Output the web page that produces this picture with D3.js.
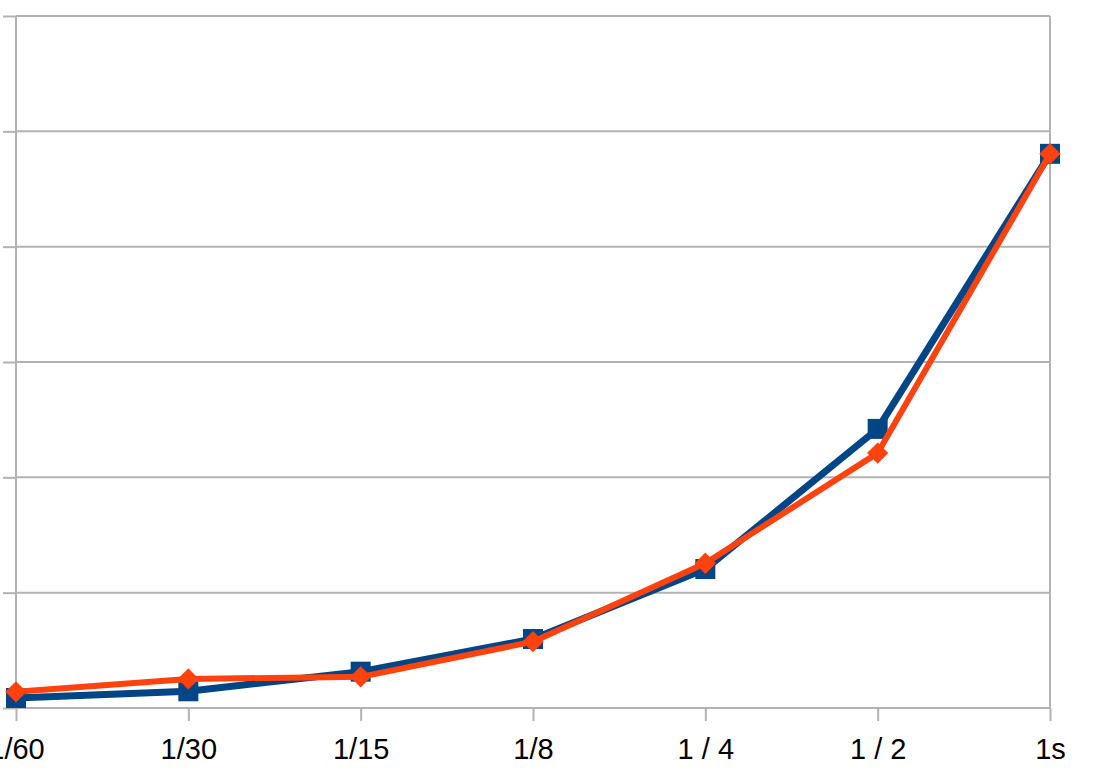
<!DOCTYPE html>
<html>
<head>
<meta charset="utf-8">
<script src="https://cdn.jsdelivr.net/npm/d3@7"></script>
<style>
  body { margin: 0; background: #fff; }
  svg { display: block; }
</style>
</head>
<body>
<div id="chart"></div>
<script>
// categories along the x axis
const categories = ["1/60", "1/30", "1/15", "1/8", "1 / 4", "1 / 2", "1s"];
// (grid step = 10)
const blueValues = [0.87, 1.45, 3.15, 5.98, 12.05, 24.2, 48.05];
const orangeValues = [1.4, 2.52, 2.7, 5.75, 12.55, 22.1, 48.05];
const yTicks = [0, 10, 20, 30, 40, 50, 60];

const width = 1094, height = 776;
const margin = {top: 16, right: 44, bottom: 68, left: 16};

const svg = d3.select("#chart").append("svg")
  .attr("width", width)
  .attr("height", height);

const x = d3.scalePoint()
  .domain(categories)
  .range([margin.left, width - margin.right]);

const y = d3.scaleLinear()
  .domain([0, 60])
  .range([height - margin.bottom, margin.top]);

// small ticks poking out on the left
svg.append("g")
  .attr("transform", `translate(${margin.left},0)`)
  .call(d3.axisLeft(y).tickValues(yTicks).tickSize(13).tickFormat(""))
  .call(g => g.select(".domain").remove())
  .call(g => g.selectAll(".tick line").attr("stroke", "#b3b3b3").attr("stroke-width", 2));

// horizontal grid lines
svg.append("g")
  .selectAll("line")
  .data(yTicks)
  .join("line")
  .attr("x1", margin.left)
  .attr("x2", width - margin.right)
  .attr("y1", d => y(d))
  .attr("y2", d => y(d))
  .attr("stroke", "#b3b3b3")
  .attr("stroke-width", 2);

// left and right vertical lines
svg.append("line")
  .attr("x1", margin.left).attr("x2", margin.left)
  .attr("y1", y(60)).attr("y2", y(0))
  .attr("stroke", "#b3b3b3").attr("stroke-width", 2);
svg.append("line")
  .attr("x1", width - margin.right).attr("x2", width - margin.right)
  .attr("y1", y(60)).attr("y2", y(0))
  .attr("stroke", "#b3b3b3").attr("stroke-width", 2);

// x axis
svg.append("g")
  .attr("transform", `translate(0,${y(0)})`)
  .call(d3.axisBottom(x).tickSize(13).tickPadding(17))
  .call(g => g.select(".domain").remove())
  .call(g => g.selectAll(".tick line").attr("stroke", "#b3b3b3").attr("stroke-width", 2))
  .call(g => g.selectAll(".tick text")
    .attr("fill", "#000")
    .style("font-family", "'Liberation Sans', Arial, sans-serif")
    .style("font-size", "29px"));

const line = d3.line()
  .x((d, i) => x(categories[i]))
  .y(d => y(d));

// blue series with squares
svg.append("path")
  .datum(blueValues)
  .attr("d", line)
  .attr("fill", "none")
  .attr("stroke", "#004586")
  .attr("stroke-width", 7)
  .attr("stroke-linejoin", "round");

svg.append("g")
  .selectAll("rect")
  .data(blueValues)
  .join("rect")
  .attr("x", (d, i) => x(categories[i]) - 10)
  .attr("y", d => y(d) - 10)
  .attr("width", 20)
  .attr("height", 20)
  .attr("fill", "#004586");

// orange series with diamonds
svg.append("path")
  .datum(orangeValues)
  .attr("d", line)
  .attr("fill", "none")
  .attr("stroke", "#ff420e")
  .attr("stroke-width", 6)
  .attr("stroke-linejoin", "round");

svg.append("g")
  .selectAll("path")
  .data(orangeValues)
  .join("path")
  .attr("d", d3.symbol(d3.symbolDiamond2, 290))
  .attr("transform", (d, i) => `translate(${x(categories[i])},${y(d)})`)
  .attr("fill", "#ff420e");
</script>
</body>
</html>
